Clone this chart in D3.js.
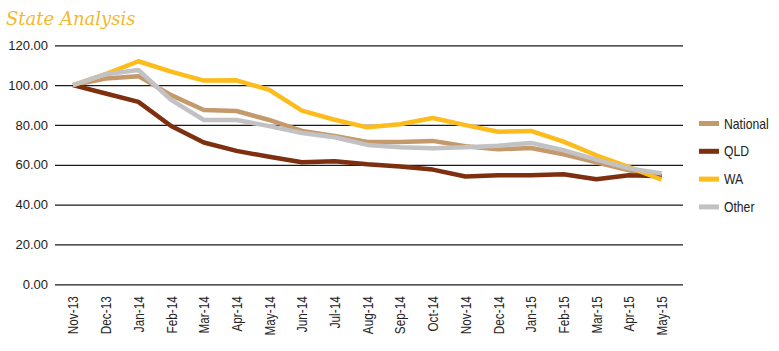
<!DOCTYPE html>
<html>
<head>
<meta charset="utf-8">
<script src="https://cdn.jsdelivr.net/npm/d3@7"></script>
<style>
body { margin: 0; background: #fff; }
svg { display: block; }
.title { font-family: "DejaVu Serif", serif; font-style: italic; fill: #f5b82c; }
.ytick text { font-family: "Liberation Sans", Arial, sans-serif; font-size: 13px; fill: #222; }
.xtick text { font-family: "Liberation Sans Narrow", "Arial Narrow", "Liberation Sans", sans-serif; font-size: 14px; fill: #222; }
.legend text { font-family: "Liberation Sans Narrow", "Arial Narrow", "Liberation Sans", sans-serif; font-size: 14.5px; fill: #222; }
</style>
</head>
<body>
<script>
const months = ['Nov-13','Dec-13','Jan-14','Feb-14','Mar-14','Apr-14','May-14','Jun-14','Jul-14','Aug-14',
  'Sep-14','Oct-14','Nov-14','Dec-14','Jan-15','Feb-15','Mar-15','Apr-15','May-15'];

const national = [100, 103.3, 104.5, 95, 87.5, 87, 82.5, 77, 74.5, 71.5, 71.5, 72, 69.3, 67.8, 68.4, 65.3, 61.3, 57.2, 54.3];
const qld      = [100, 95.8, 91.6, 79.5, 71.2, 67, 64, 61.3, 61.8, 60.3, 59.2, 57.6, 54.1, 54.8, 54.8, 55.3, 52.7, 54.8, 54.2];
const wa       = [100, 105.5, 112, 106.8, 102.3, 102.4, 97.6, 87.2, 82.6, 78.8, 80.4, 83.5, 79.9, 76.6, 77, 71.6, 64.8, 58.8, 52.6];
const other    = [100, 105.5, 107.6, 92.6, 82.5, 82.5, 79.4, 76, 73.8, 70, 68.8, 68.3, 68.8, 69.6, 71, 67.3, 62.6, 58.2, 55.6];

const seriesNames = ['National', 'QLD', 'WA', 'Other'];
const seriesValues = [national, qld, wa, other];
const colors = ['#c49a6c', '#7e2f0f', '#fbbc1c', '#c2c2c4'];

const yTicks = [0, 20, 40, 60, 80, 100, 120];

const width = 779, height = 351;

// narrow fonts are not always there, so squeeze the plain one
const narrow = 0.84;

const svg = d3.select('body').append('svg')
.attr('width', width)
.attr('height', height)

svg.append('text')
.attr('class', 'title')
.attr('x', 6)
.attr('y', 25)
.style('font-size', '18px')
.style('font-weight', 500)
.text('State Analysis')

const x = d3.scalePoint()
.domain(months)
.range([73, 661.7])

const y = d3.scaleLinear()
.domain([0, 120])
.range([284.3, 45.3])

// gridlines + labels
const yAxis = svg.append('g')
.attr('class', 'ytick')
.attr('transform', 'translate(55,0)')
.call(d3.axisLeft(y).tickValues(yTicks).tickFormat(d3.format('.2f')).tickSize(-628).tickPadding(7))

yAxis.select('.domain').remove()
yAxis.selectAll('line').attr('stroke', '#1a1a1a').attr('stroke-width', 1.3)

const xAxis = svg.append('g')
.attr('class', 'xtick')
.attr('transform', 'translate(0,284.3)')
.call(d3.axisBottom(x).tickSize(0))

xAxis.select('.domain').remove()
xAxis.selectAll('text')
.attr('transform', `rotate(-90) scale(${narrow},1)`)
.attr('x', -12 / narrow)
.attr('y', 0)
.attr('dy', '0.35em')
.style('text-anchor', 'end')

const line = d3.line()
.x((d, i) => x(months[i]))
.y(d => y(d))

svg.append('g')
.selectAll('path')
.data(seriesValues)
.enter()
.append('path')
.attr('d', d => line(d))
.attr('fill', 'none')
.attr('stroke', (d, i) => colors[i])
.attr('stroke-width', 4.5)
.attr('stroke-linejoin', 'round')

const legend = svg.append('g')
.attr('class', 'legend')

const items = legend.selectAll('g')
.data(seriesNames)
.enter()
.append('g')
.attr('transform', (d, i) => `translate(699,${123.5 + i * 27.8})`)

items.append('rect')
.attr('x', 0)
.attr('y', -2.5)
.attr('width', 20)
.attr('height', 5)
.attr('fill', (d, i) => colors[i])

items.append('text')
.attr('transform', `translate(25,0) scale(${narrow},1)`)
.attr('dy', '0.35em')
.text(d => d)
</script>
</body>
</html>
